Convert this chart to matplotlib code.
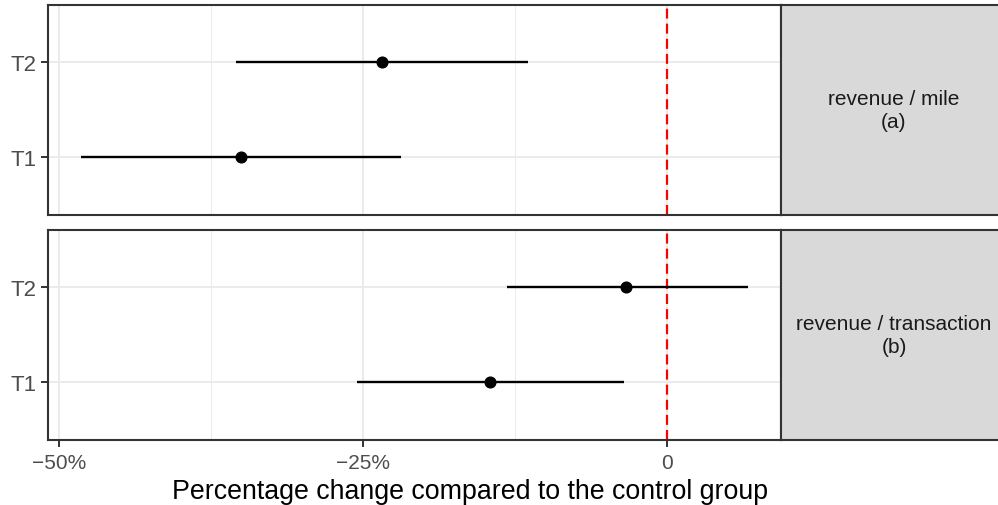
import matplotlib.pyplot as plt
from matplotlib.ticker import FixedLocator

# estimates in percent
groups = ["T1", "T2"]
panels = ["revenue / mile\n(a)", "revenue / transaction\n(b)"]
est = [[-35.1, -23.5], [-14.6, -3.4]]
lo = [[-48.2, -35.5], [-25.5, -13.2]]
hi = [[-21.9, -11.5], [-3.6, 6.6]]

major_ticks = [-50, -25, 0]
minor_ticks = [-37.5, -12.5]
tick_labels = ["\u221250%", "\u221225%", "0"]

plt.rcParams["font.family"] = ["Liberation Sans", "DejaVu Sans"]

W, H = 998, 506
fig = plt.figure(figsize=(W / 100, H / 100), dpi=100)

def px(x0, y0, x1, y1):
    return [x0 / W, 1 - y1 / H, (x1 - x0) / W, (y1 - y0) / H]

boxes = [(48, 6, 781, 215.5), (48, 231, 781, 440.5)]
border = "#333333"

for i, (x0, y0, x1, y1) in enumerate(boxes):
    ax = fig.add_axes(px(x0, y0, x1, y1))
    ax.set_xlim(-50.94, 9.34)
    ax.set_ylim(0.4, 2.6)
    ypos = [1, 2]
    ax.xaxis.set_major_locator(FixedLocator(major_ticks))
    ax.xaxis.set_minor_locator(FixedLocator(minor_ticks))
    ax.set_yticks(ypos)
    ax.set_yticklabels(groups)
    ax.grid(which="major", color="#EBEBEB", lw=1.4, zorder=0)
    ax.grid(which="minor", axis="x", color="#EBEBEB", lw=0.7, zorder=0)
    ax.set_axisbelow(True)
    for s in ax.spines.values():
        s.set_color(border)
        s.set_linewidth(1.5)
    ax.tick_params(axis="y", length=5, width=1.4, color=border,
                   labelsize=16, labelcolor="#4D4D4D", pad=3)
    ax.tick_params(axis="x", which="minor", length=0)
    if i == 1:
        ax.set_xticklabels(tick_labels)
        ax.tick_params(axis="x", which="major", length=5, width=1.4,
                       color=border, labelsize=15, labelcolor="#4D4D4D", pad=5)
    else:
        ax.tick_params(axis="x", which="major", length=0, labelbottom=False)

    ax.axvline(0, color="red", ls=(0, (4.5, 2.3)), lw=1.6, zorder=2)
    ax.hlines(ypos, lo[i], hi[i], color="black", lw=1.7, zorder=3)
    ax.plot(est[i], ypos, "o", color="black", ms=7.7, zorder=4)

    # facet strip on the right
    sx = fig.add_axes(px(781, y0, 1010, y1))
    sx.set_facecolor("#D9D9D9")
    sx.set_xticks([])
    sx.set_yticks([])
    for s in sx.spines.values():
        s.set_color(border)
        s.set_linewidth(1.5)
    sx.text(113 / 229, 0.5, panels[i], transform=sx.transAxes, ha="center",
            va="center", fontsize=15, color="#1A1A1A", linespacing=1.25)

fig.text(470 / W, 1 - 499 / H, "Percentage change compared to the control group",
         ha="center", va="baseline", fontsize=19.3, color="black")

fig.savefig("out.png", dpi=100)
